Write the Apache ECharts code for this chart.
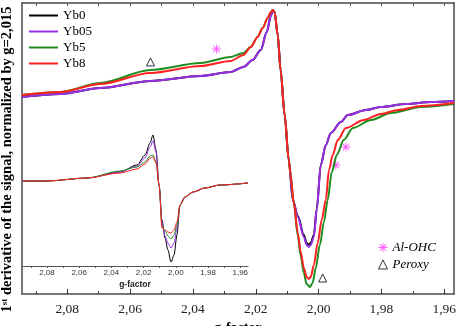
<!DOCTYPE html>
<html>
<head>
<meta charset="utf-8">
<script src="https://cdn.jsdelivr.net/npm/echarts@6/dist/echarts.min.js"></script>
<style>
  html, body { margin: 0; padding: 0; background: #fff; }
  #main { width: 457px; height: 326px; }
</style>
</head>
<body>
<div id="main"></div>
<script>
// tick labels (g-factor)
var majorTicks = [2.08, 2.06, 2.04, 2.02, 2.00, 1.98, 1.96];
var minorTicks = [2.09, 2.07, 2.05, 2.03, 2.01, 1.99, 1.97];
var allTicks = [2.09, 2.08, 2.07, 2.06, 2.05, 2.04, 2.03, 2.02, 2.01, 2.00, 1.99, 1.98, 1.97, 1.96];

// main spectra [g, normalized derivative]
var mainYb0 = [[2.0944,0.065],[2.0822,0.097],[2.0695,0.161],[2.0535,0.237],[2.0376,0.290],[2.0280,0.333],[2.0239,0.387],[2.0210,0.462],[2.0184,0.570],[2.0165,0.763],[2.0152,0.935],[2.0146,0.989],[2.0140,0.978],[2.0130,0.731],[2.0121,0.355],[2.0108,-0.129],[2.0095,-0.613],[2.0082,-1.043],[2.0066,-1.215],[2.0047,-1.420],[2.0038,-1.505],[2.0031,-1.527],[2.0025,-1.505],[2.0015,-1.420],[2.0006,-1.140],[1.9993,-0.667],[1.9977,-0.452],[1.9961,-0.323],[1.9929,-0.204],[1.9907,-0.129],[1.9849,-0.075],[1.9802,-0.043],[1.9722,-0.011],[1.9642,0.011],[1.9569,0.022]];
var mainYb05 = [[2.0944,0.065],[2.0822,0.097],[2.0695,0.161],[2.0535,0.237],[2.0376,0.290],[2.0280,0.333],[2.0239,0.387],[2.0210,0.462],[2.0184,0.570],[2.0165,0.763],[2.0152,0.935],[2.0146,0.989],[2.0140,0.978],[2.0130,0.731],[2.0121,0.355],[2.0108,-0.129],[2.0095,-0.613],[2.0082,-1.043],[2.0066,-1.226],[2.0047,-1.441],[2.0038,-1.527],[2.0031,-1.548],[2.0025,-1.527],[2.0015,-1.441],[2.0006,-1.151],[1.9993,-0.667],[1.9977,-0.452],[1.9961,-0.323],[1.9929,-0.204],[1.9907,-0.129],[1.9849,-0.075],[1.9802,-0.043],[1.9722,-0.011],[1.9642,0.011],[1.9569,0.022]];
var mainYb5 = [[2.0944,0.086],[2.0822,0.118],[2.0695,0.215],[2.0535,0.355],[2.0376,0.430],[2.0280,0.495],[2.0239,0.538],[2.0216,0.602],[2.0194,0.710],[2.0178,0.806],[2.0162,0.914],[2.0152,0.978],[2.0146,1.0],[2.0140,0.978],[2.0130,0.731],[2.0121,0.355],[2.0108,-0.129],[2.0095,-0.613],[2.0089,-0.774],[2.0079,-1.075],[2.0066,-1.430],[2.0057,-1.645],[2.0047,-1.828],[2.0038,-1.946],[2.0028,-1.978],[2.0019,-1.935],[2.0009,-1.774],[1.9996,-1.527],[1.9983,-1.280],[1.9971,-1.043],[1.9958,-0.742],[1.9942,-0.559],[1.9920,-0.398],[1.9891,-0.269],[1.9833,-0.183],[1.9770,-0.108],[1.9674,-0.043],[1.9569,-0.011]];
var mainYb8 = [[2.0944,0.086],[2.0822,0.118],[2.0695,0.204],[2.0535,0.323],[2.0376,0.398],[2.0280,0.452],[2.0239,0.516],[2.0216,0.602],[2.0194,0.710],[2.0178,0.806],[2.0162,0.914],[2.0152,0.978],[2.0146,1.0],[2.0140,0.978],[2.0130,0.731],[2.0121,0.355],[2.0108,-0.129],[2.0095,-0.613],[2.0089,-0.774],[2.0079,-1.075],[2.0066,-1.398],[2.0057,-1.602],[2.0047,-1.774],[2.0038,-1.871],[2.0031,-1.892],[2.0025,-1.871],[2.0015,-1.742],[2.0003,-1.505],[1.9990,-1.258],[1.9977,-1.043],[1.9967,-0.720],[1.9955,-0.559],[1.9939,-0.398],[1.9913,-0.269],[1.9856,-0.183],[1.9802,-0.118],[1.9747,-0.075],[1.9674,-0.032],[1.9569,0.0]];

// inset spectra (not normalized)
var insetYb0 = [[2.0955,0.042],[2.0800,0.042],[2.0552,0.104],[2.0347,0.229],[2.0241,0.375],[2.0191,0.583],[2.0160,0.833],[2.0142,1.0],[2.0123,0.688],[2.0104,-0.042],[2.0086,-0.771],[2.0067,-1.146],[2.0049,-1.396],[2.0030,-1.646],[2.0011,-1.500],[1.9993,-1.083],[1.9974,-0.458],[1.9943,-0.292],[1.9893,-0.188],[1.9819,-0.104],[1.9726,-0.042],[1.9552,0.0]];
var insetYb05 = [[2.0955,0.042],[2.0800,0.042],[2.0552,0.104],[2.0347,0.229],[2.0241,0.354],[2.0191,0.521],[2.0160,0.750],[2.0142,0.875],[2.0123,0.646],[2.0104,-0.042],[2.0086,-0.813],[2.0067,-1.104],[2.0049,-1.250],[2.0030,-1.354],[2.0011,-1.250],[1.9993,-0.938],[1.9974,-0.458],[1.9943,-0.292],[1.9893,-0.188],[1.9819,-0.104],[1.9726,-0.042],[1.9552,0.0]];
var insetYb5 = [[2.0955,0.042],[2.0800,0.042],[2.0552,0.104],[2.0347,0.250],[2.0241,0.333],[2.0191,0.438],[2.0160,0.563],[2.0142,0.583],[2.0123,0.438],[2.0104,-0.042],[2.0086,-0.896],[2.0067,-1.000],[2.0049,-1.104],[2.0030,-1.167],[2.0011,-1.083],[1.9993,-0.875],[1.9974,-0.458],[1.9943,-0.292],[1.9893,-0.188],[1.9819,-0.104],[1.9726,-0.042],[1.9552,0.0]];
var insetYb8 = [[2.0955,0.042],[2.0800,0.042],[2.0552,0.104],[2.0347,0.208],[2.0241,0.292],[2.0191,0.396],[2.0160,0.521],[2.0142,0.542],[2.0123,0.417],[2.0104,-0.042],[2.0086,-0.938],[2.0067,-0.979],[2.0049,-1.021],[2.0030,-1.042],[2.0011,-0.979],[1.9993,-0.813],[1.9974,-0.458],[1.9943,-0.292],[1.9893,-0.188],[1.9819,-0.104],[1.9726,-0.042],[1.9552,0.0]];

// defect markers
var alOhc = [[2.0325,0.581],[1.9913,-0.473],[1.9945,-0.667]];
var peroxy = [[2.0535,0.441],[1.9987,-1.882]];

var names = ['Yb0', 'Yb05', 'Yb5', 'Yb8'];
var colors = ['#000000', '#9a2ee8', '#1e8c1e', '#ff2020'];

var serif = 'Liberation Serif';
var sans = 'Liberation Sans';
var asterisk = 'path://M-1,-10H1V10H-1Z M-10,-1H10V1H-10Z M-7.78,-6.36L-6.36,-7.78L7.78,6.36L6.36,7.78Z M6.36,-7.78L7.78,-6.36L-6.36,7.78L-7.78,6.36Z';

function gLabel(v){
	return v.toFixed(2).replace('.', ',');
}

var myChart = echarts.init(document.getElementById('main'));

var mainData = [mainYb0, mainYb05, mainYb5, mainYb8];
var insetData = [insetYb0, insetYb05, insetYb5, insetYb8];
var series = [];
for (var i = 0; i < 4; i++) {
	series.push({
		name: names[i], type: 'line', xAxisIndex: 0, yAxisIndex: 0,
		data: mainData[i], showSymbol: false, smooth: 0.3, smoothMonotone: 'x',
		lineStyle: {width: 2, color: colors[i]}, itemStyle: {color: colors[i]}
	});
}
for (var i = 0; i < 4; i++) {
	series.push({
		name: names[i], type: 'line', xAxisIndex: 3, yAxisIndex: 2,
		data: insetData[i], showSymbol: false, smooth: 0.3, smoothMonotone: 'x',
		lineStyle: {width: 1, color: colors[i]}, itemStyle: {color: colors[i]}
	});
}
series.push({
	name: 'Al-OHC', type: 'scatter', xAxisIndex: 0, yAxisIndex: 0,
	data: alOhc, symbol: asterisk, symbolSize: 9,
	itemStyle: {color: '#ff33ff'}
});
series.push({
	name: 'Peroxy', type: 'scatter', xAxisIndex: 0, yAxisIndex: 0,
	data: peroxy, symbol: 'triangle', symbolSize: 8,
	itemStyle: {color: '#ffffff', borderColor: '#000', borderWidth: 1}
});

var axisLineStyle = {color: '#4a4a4a', width: 1.5};
var gMin = 1.9569, gMax = 2.0944;
var vMin = -2.054, vMax = 1.075;

var option = {
	backgroundColor: '#fff',
	animation: false,
	legend: [{
		data: names,
		orient: 'vertical',
		left: 29, top: 9, padding: 0,
		icon: 'rect', itemWidth: 29, itemHeight: 2, itemGap: 3,
		textStyle: {fontFamily: serif, fontSize: 13, color: '#000'}
	}, {
		data: ['Al-OHC', {name: 'Peroxy', itemStyle: {color: '#fff', borderColor: '#000', borderWidth: 1}}],
		orient: 'vertical',
		left: 378, top: 241, padding: 0,
		itemWidth: 9, itemHeight: 9, itemGap: 4,
		textStyle: {fontFamily: serif, fontSize: 13, fontStyle: 'italic', color: '#000'}
	}],
	grid: [
		{left: 22, right: 3, top: 3, bottom: 32, containLabel: false, outerBoundsMode: 'none'},
		{left: 22, right: 209, top: 125, bottom: 60, containLabel: false, outerBoundsMode: 'none'}
	],
	xAxis: [{
		// main bottom axis with labels and major ticks
		type: 'value', gridIndex: 0, position: 'bottom', inverse: true,
		min: gMin, max: gMax,
		axisLine: {show: true, onZero: false, lineStyle: axisLineStyle},
		axisTick: {show: true, inside: true, length: 5, customValues: majorTicks, lineStyle: {color: '#333'}},
		axisLabel: {customValues: majorTicks, formatter: gLabel, fontFamily: serif, fontSize: 13.5, color: '#222', margin: 8},
		splitLine: {show: false},
		name: 'g-factor', nameLocation: 'middle', nameGap: 24,
		nameTextStyle: {fontFamily: serif, fontSize: 14, fontWeight: 'bold', color: '#000'}
	}, {
		// main bottom minor ticks
		type: 'value', gridIndex: 0, position: 'bottom', inverse: true,
		min: gMin, max: gMax,
		axisLine: {show: false, onZero: false},
		axisTick: {show: true, inside: true, length: 3, customValues: minorTicks, lineStyle: {color: '#333'}},
		axisLabel: {show: false}, splitLine: {show: false}
	}, {
		// main top border
		type: 'value', gridIndex: 0, position: 'top', inverse: true,
		min: gMin, max: gMax,
		axisLine: {show: true, onZero: false, lineStyle: axisLineStyle},
		axisTick: {show: true, inside: true, length: 3, customValues: allTicks, lineStyle: {color: '#555'}},
		axisLabel: {show: false}, splitLine: {show: false}
	}, {
		// inset axis
		type: 'value', gridIndex: 1, position: 'bottom', inverse: true,
		min: 1.9552, max: 2.0955,
		axisLine: {show: true, onZero: false, lineStyle: {color: '#555', width: 1}},
		axisTick: {show: true, inside: false, length: 2, customValues: allTicks, lineStyle: {color: '#555'}},
		axisLabel: {customValues: majorTicks, formatter: gLabel, fontFamily: sans, fontSize: 8, color: '#333', margin: 3},
		splitLine: {show: false},
		name: 'g-factor', nameLocation: 'middle', nameGap: 14,
		nameTextStyle: {fontFamily: sans, fontSize: 8.5, fontWeight: 'bold', color: '#222'}
	}],
	yAxis: [{
		type: 'value', gridIndex: 0, position: 'left',
		min: vMin, max: vMax,
		axisLine: {show: true, onZero: false, lineStyle: axisLineStyle},
		axisTick: {show: false}, axisLabel: {show: false}, splitLine: {show: false},
		name: '{a|1}{s|st}{a| derivative of the signal, normalized by g=2,015}',
		nameLocation: 'middle', nameRotate: 90, nameGap: 7,
		nameTextStyle: {
			padding: [0, 22, 0, 0],
			rich: {
				a: {fontFamily: serif, fontSize: 14.5, fontWeight: 'bold', color: '#000'},
				s: {fontFamily: serif, fontSize: 9, fontWeight: 'bold', color: '#000', verticalAlign: 'top', padding: [0, 0, 6, 0]}
			}
		}
	}, {
		type: 'value', gridIndex: 0, position: 'right',
		min: vMin, max: vMax,
		axisLine: {show: true, onZero: false, lineStyle: axisLineStyle},
		axisTick: {show: false}, axisLabel: {show: false}, splitLine: {show: false}
	}, {
		type: 'value', gridIndex: 1,
		min: -1.729, max: 1.208,
		axisLine: {show: false, onZero: false}, axisTick: {show: false}, axisLabel: {show: false}, splitLine: {show: false}
	}],
	series: series
};

myChart.setOption(option);
</script>
</body>
</html>
